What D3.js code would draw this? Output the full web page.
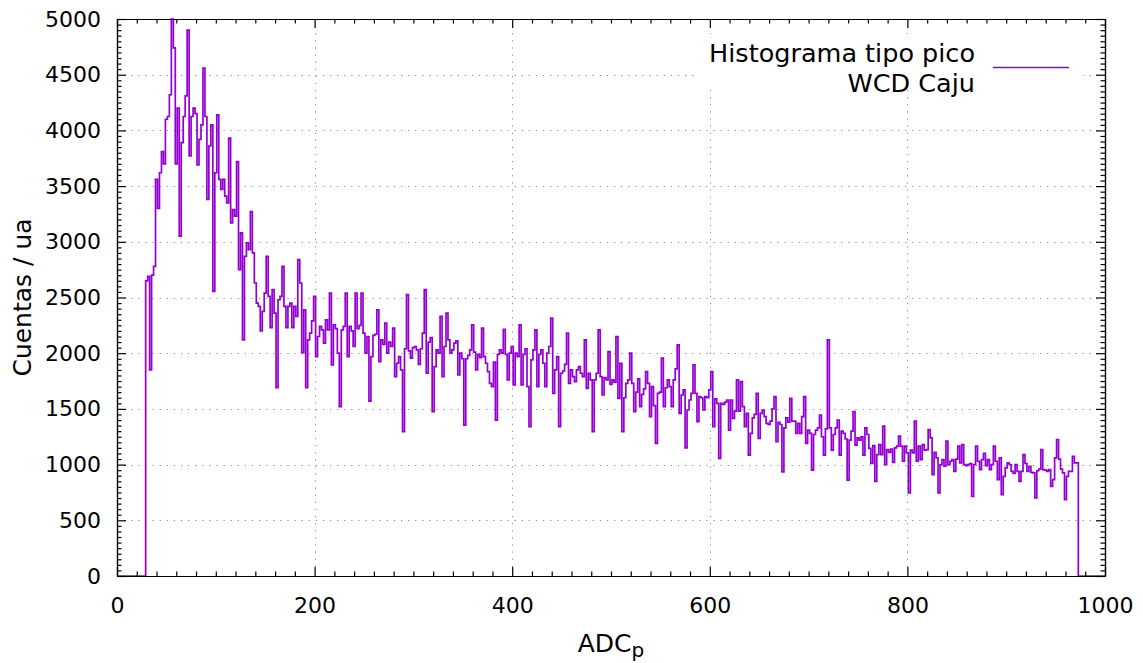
<!DOCTYPE html>
<html>
<head>
<meta charset="utf-8">
<script src="https://cdn.jsdelivr.net/npm/d3@7"></script>
<style>
  html, body { margin: 0; padding: 0; background: #fff; }
  svg { display: block; font-family: "DejaVu Sans", sans-serif; }
</style>
</head>
<body>
<svg id="chart" width="1143" height="663"></svg>
<script>
// Histogram of peak amplitudes (ADC_p) for the WCD Caju detector
const binStart = 29;
const binWidth = 2;
const counts = [
  2650,2690,1850,2700,2780,3560,3300,3620,3810,3700,4100,4125,4320,5000,4740,3700,4200,3050,3890,4125,
  4310,4900,3770,4125,4200,4150,3690,3920,4050,4560,4125,3380,3860,4050,2555,3620,4140,3560,3470,3560,
  3410,3350,3930,3170,3290,3230,3720,2750,3080,2120,2870,2990,2930,3270,2900,2630,2450,2420,2200,2375,
  2540,2870,2510,2230,2570,2360,1690,2480,2510,2780,2420,2230,2420,2450,2230,2420,2330,2840,2630,2005,
  2390,1690,2120,2180,
  2290,2510,1970,2150,2240,2210,2090,2300,2210,2540,1895,2255,2220,2000,1520,2210,2240,2540,1970,2240,
  2200,2060,2540,2220,2250,2540,2180,2000,2150,1570,1970,2160,2170,2390,1925,2120,2080,2270,2000,2100,
  2060,2225,1790,1910,1970,1850,1295,2040,2525,2020,1955,2050,2060,2030,1900,2040,2180,2570,1820,2100,
  2140,1475,1880,2030,2000,2330,1790,2060,2360,2120,2000,2030,2090,2110,1805,2000,1950,1355,1950,1980,
  2030,2255,2010,1850,1990,1960,2225,1970,1910,1835,1730,
  1700,1920,1400,1990,2030,2000,2215,1990,1760,2000,2060,1715,2000,1970,2255,1715,1990,2040,1700,1340,
  1940,2030,2210,1700,1990,2030,1910,1700,2000,2060,2315,1640,1850,1970,1340,1820,1840,1900,2180,1730,
  1850,1790,1745,1850,1880,1820,1790,2120,1685,1820,1760,1295,1760,1820,2210,1790,1625,1780,1760,2015,
  1720,1760,1740,2150,1595,1910,1295,1600,1730,1760,2000,1730,1475,1650,1770,1520,1630,1680,1835,1730,
  1430,1700,1530,1190,1640,1650,1955,1520,1690,1760,1700,1520,1760,1860,2075,1460,
  1625,1670,1150,1490,1580,1640,1895,1640,1385,1610,1600,1490,1610,1600,1670,1835,1340,1590,1550,1055,
  1550,1540,1560,1580,1310,1580,1415,1480,1760,1480,1745,1520,1340,1460,1085,1280,1420,1450,1640,1235,
  1460,1490,1430,1370,1360,1390,1500,1610,1205,1380,1360,935,1330,1420,1380,1595,1390,1390,1280,1370,
  1280,1430,1610,1190,1310,1280,950,1270,1310,1330,1445,1250,1085,1320,2120,1330,1130,1270,1330,1400,
  1085,1300,1280,1230,860,1220,1300,1475,1175,1240,1220,1250,1085,1330,1270,1145,1010,
  1170,850,1090,1180,1090,1345,1000,1135,1110,1140,1020,1150,1165,1255,1165,1030,1165,1105,745,1130,
  1105,1390,1030,1165,1045,1180,1130,1135,1315,1240,910,1110,1060,745,1000,1045,985,1210,1000,1030,
  1045,940,1050,1165,1015,1180,1000,990,1000,1010,715,1000,1165,1030,955,1045,1100,990,1045,955,
  1000,1165,1030,865,1060,730,895,970,1015,1000,940,920,1000,940,850,940,1090,1010,940,985,
  930,925,700,945,960,1135,955,950,940,955,805,865,1060,1225,1050,960,925,685,895,940,
  940,1075,1015,1015
];

const xDomain = [0, 1000];
const yDomain = [0, 5000];
const xMajor = [0, 200, 400, 600, 800, 1000];
const yMajor = [0, 500, 1000, 1500, 2000, 2500, 3000, 3500, 4000, 4500, 5000];
const xMinor = d3.range(0, 1001, 20).filter(v => v % 200 !== 0);
const yMinor = d3.range(0, 5001, 50).filter(v => v % 500 !== 0);
const legendLines = ["Histograma tipo pico", "WCD Caju"];
const xLabel = "ADC";
const xLabelSub = "p";
const yLabel = "Cuentas / ua";

const frame = { left: 117, right: 1105, top: 19, bottom: 576 };
const lineColor = "#9400d3";

const svg = d3.select("#chart");
const x = d3.scaleLinear().domain(xDomain).range([frame.left, frame.right]);
const y = d3.scaleLinear().domain(yDomain).range([frame.bottom, frame.top]);
const W = frame.right - frame.left, H = frame.bottom - frame.top;
const plain = d3.format("d");

// dotted grid on the major ticks
const grid = svg.append("g").attr("stroke", "#8a8a8a").attr("stroke-width", 1)
  .attr("stroke-dasharray", "1.2,5.9");
grid.selectAll("line.gx").data(xMajor.slice(1, -1)).join("line")
  .attr("x1", d => Math.round(x(d)) + 0.5).attr("x2", d => Math.round(x(d)) + 0.5)
  .attr("y1", frame.top).attr("y2", frame.bottom);
grid.selectAll("line.gy").data(yMajor.slice(1, -1)).join("line")
  .attr("y1", d => Math.round(y(d)) + 0.5).attr("y2", d => Math.round(y(d)) + 0.5)
  .attr("x1", frame.left).attr("x2", frame.right);

// key box (opaque) hides the grid behind the legend
svg.append("rect").attr("x", 697).attr("y", 34).attr("width", 386).attr("height", 50)
  .attr("fill", "#fff");

// histogram drawn as steps, zero outside the filled range
svg.append("clipPath").attr("id", "plotClip").append("rect")
  .attr("x", frame.left).attr("y", frame.top - 1).attr("width", W).attr("height", H + 2);

const path = d3.path();
path.moveTo(x(xDomain[0]), y(0));
path.lineTo(x(binStart), y(0));
counts.forEach((c, i) => {
  const x0 = binStart + i * binWidth;
  path.lineTo(x(x0), y(c));
  path.lineTo(x(x0 + binWidth), y(c));
});
const binEnd = binStart + counts.length * binWidth;
path.lineTo(x(binEnd), y(0));
path.lineTo(x(xDomain[1]), y(0));

svg.append("path").attr("d", path.toString())
  .attr("clip-path", "url(#plotClip)")
  .attr("fill", "none").attr("stroke", lineColor).attr("stroke-width", 1.7)
  .attr("stroke-linejoin", "miter");

// axes: major + minor ticks mirrored on all four sides, drawn inward
const tickFont = 22;
function styleAxis(g) {
  g.selectAll("path.domain").attr("stroke", "#000").attr("stroke-width", 1.2);
  g.selectAll(".tick line").attr("stroke", "#000").attr("stroke-width", 1.2);
  g.selectAll(".tick text").attr("fill", "#000").attr("font-size", tickFont)
    .attr("font-family", "DejaVu Sans, sans-serif");
}

svg.append("g").attr("transform", `translate(0,${frame.bottom})`)
  .call(d3.axisBottom(x).tickValues(xMajor).tickFormat(plain)
    .tickSizeInner(-9).tickSizeOuter(0).tickPadding(21))
  .call(styleAxis);
svg.append("g").attr("transform", `translate(0,${frame.bottom})`)
  .call(d3.axisBottom(x).tickValues(xMinor).tickSizeInner(-4.5).tickSizeOuter(0).tickFormat(""))
  .call(styleAxis);
svg.append("g").attr("transform", `translate(0,${frame.top})`)
  .call(d3.axisTop(x).tickValues(xMajor).tickSizeInner(-9).tickSizeOuter(0).tickFormat(""))
  .call(styleAxis);
svg.append("g").attr("transform", `translate(0,${frame.top})`)
  .call(d3.axisTop(x).tickValues(xMinor).tickSizeInner(-4.5).tickSizeOuter(0).tickFormat(""))
  .call(styleAxis);
svg.append("g").attr("transform", `translate(${frame.left},0)`)
  .call(d3.axisLeft(y).tickValues(yMajor).tickFormat(plain)
    .tickSizeInner(-9).tickSizeOuter(0).tickPadding(16))
  .call(styleAxis);
svg.append("g").attr("transform", `translate(${frame.left},0)`)
  .call(d3.axisLeft(y).tickValues(yMinor).tickSizeInner(-4.5).tickSizeOuter(0).tickFormat(""))
  .call(styleAxis);
svg.append("g").attr("transform", `translate(${frame.right},0)`)
  .call(d3.axisRight(y).tickValues(yMajor).tickSizeInner(-9).tickSizeOuter(0).tickFormat(""))
  .call(styleAxis);
svg.append("g").attr("transform", `translate(${frame.right},0)`)
  .call(d3.axisRight(y).tickValues(yMinor).tickSizeInner(-4.5).tickSizeOuter(0).tickFormat(""))
  .call(styleAxis);

// axis titles
const labelFont = 25;
const xl = svg.append("text").attr("x", (frame.left + frame.right) / 2).attr("y", 652)
  .attr("text-anchor", "middle").attr("font-size", labelFont).attr("fill", "#000");
xl.append("tspan").text(xLabel);
xl.append("tspan").attr("font-size", labelFont * 0.8).attr("dy", 5).text(xLabelSub);

svg.append("text")
  .attr("transform", `translate(31,${(frame.top + frame.bottom) / 2}) rotate(-90)`)
  .attr("text-anchor", "middle").attr("font-size", labelFont).attr("fill", "#000")
  .text(yLabel);

// key
const key = svg.append("g").attr("font-size", 25.5).attr("fill", "#000");
key.selectAll("text").data(legendLines).join("text")
  .attr("x", 975).attr("y", (d, i) => 62 + i * 30)
  .attr("text-anchor", "end").text(d => d);
key.append("line").attr("x1", 993).attr("x2", 1069).attr("y1", 67.5).attr("y2", 67.5)
  .attr("stroke", lineColor).attr("stroke-width", 1.6);
</script>
</body>
</html>
